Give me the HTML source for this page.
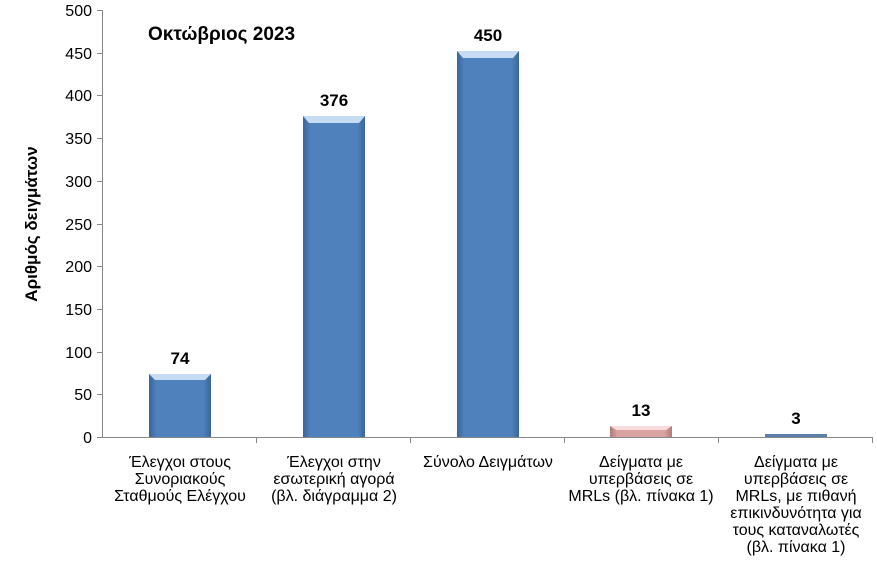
<!DOCTYPE html>
<html><head><meta charset="utf-8"><style>body{margin:0;background:#fff}svg{display:block}text{font-family:"Liberation Sans",Arial,sans-serif}</style></head><body>
<svg width="877" height="566" viewBox="0 0 877 566" xmlns="http://www.w3.org/2000/svg">
<defs>
<linearGradient id="bg" x1="0" x2="1" y1="0" y2="0"><stop offset="0" stop-color="#3a6599"/><stop offset="0.12" stop-color="#4f81bd"/><stop offset="0.88" stop-color="#4f81bd"/><stop offset="1" stop-color="#3a6599"/></linearGradient>
<linearGradient id="pg" x1="0" x2="1" y1="0" y2="0"><stop offset="0" stop-color="#b07a79"/><stop offset="0.12" stop-color="#d9a3a2"/><stop offset="0.88" stop-color="#d9a3a2"/><stop offset="1" stop-color="#b07a79"/></linearGradient>
</defs>
<g stroke="#888" stroke-width="1" fill="none">
<line x1="102.5" y1="10" x2="102.5" y2="437"/>
<line x1="102" y1="437.5" x2="872" y2="437.5"/>
</g>
<g stroke="#888">
<line x1="97" x2="102" y1="10.5" y2="10.5"/><line x1="97" x2="102" y1="53.5" y2="53.5"/><line x1="97" x2="102" y1="95.5" y2="95.5"/><line x1="97" x2="102" y1="138.5" y2="138.5"/><line x1="97" x2="102" y1="181.5" y2="181.5"/><line x1="97" x2="102" y1="224.5" y2="224.5"/><line x1="97" x2="102" y1="266.5" y2="266.5"/><line x1="97" x2="102" y1="309.5" y2="309.5"/><line x1="97" x2="102" y1="352.5" y2="352.5"/><line x1="97" x2="102" y1="394.5" y2="394.5"/><line x1="97" x2="102" y1="437.5" y2="437.5"/>
<line x1="256.5" x2="256.5" y1="437" y2="443"/><line x1="410.5" x2="410.5" y1="437" y2="443"/><line x1="564.5" x2="564.5" y1="437" y2="443"/><line x1="718.5" x2="718.5" y1="437" y2="443"/><line x1="872.5" x2="872.5" y1="437" y2="443"/>
</g>
<g font-size="16" text-anchor="end" fill="#000">
<text x="92" y="16">500</text><text x="92" y="59">450</text><text x="92" y="101">400</text><text x="92" y="144">350</text><text x="92" y="187">300</text><text x="92" y="230">250</text><text x="92" y="272">200</text><text x="92" y="315">150</text><text x="92" y="358">100</text><text x="92" y="400">50</text><text x="92" y="443">0</text>
</g>
<text transform="translate(37,224) rotate(-90)" text-anchor="middle" font-size="17" font-weight="bold">Αριθμός δειγμάτων</text>
<text x="148" y="40" font-size="19" font-weight="bold">Οκτώβριος 2023</text>
<rect x="149" y="374" width="62" height="63" fill="url(#bg)"/>
<polygon points="149,374 211,374 205,380 155,380" fill="#c6dcf5"/>
<rect x="303" y="116" width="62" height="321" fill="url(#bg)"/>
<polygon points="303,116 365,116 359,123 309,123" fill="#c6dcf5"/>
<rect x="457" y="51" width="62" height="386" fill="url(#bg)"/>
<polygon points="457,51 519,51 513,58 463,58" fill="#c6dcf5"/>
<rect x="610" y="426" width="62" height="11" fill="url(#pg)"/>
<polygon points="610,426 672,426 666,430 616,430" fill="#f7dcdb"/>
<rect x="765" y="434" width="62" height="3" fill="#5b7fa8"/>
<g font-size="17" font-weight="bold" text-anchor="middle">
<text x="180" y="364">74</text><text x="334" y="106">376</text><text x="488" y="41">450</text><text x="641" y="416">13</text><text x="796" y="424">3</text>
</g>
<g font-size="16" text-anchor="middle">
<text x="180" y="467">Έλεγχοι στους</text><text x="180" y="484">Συνοριακούς</text><text x="180" y="501">Σταθμούς Ελέγχου</text>
<text x="334" y="467">Έλεγχοι στην</text><text x="334" y="484">εσωτερική αγορά</text><text x="334" y="501">(βλ. διάγραμμα 2)</text>
<text x="488" y="467">Σύνολο Δειγμάτων</text>
<text x="641" y="467">Δείγματα με</text><text x="641" y="484">υπερβάσεις σε</text><text x="641" y="501">MRLs (βλ. πίνακα 1)</text>
<text x="796" y="467">Δείγματα με</text><text x="796" y="484">υπερβάσεις σε</text><text x="796" y="501">MRLs, με πιθανή</text><text x="796" y="518">επικινδυνότητα για</text><text x="796" y="535">τους καταναλωτές</text><text x="796" y="552">(βλ. πίνακα 1)</text>
</g>
</svg>
</body></html>
